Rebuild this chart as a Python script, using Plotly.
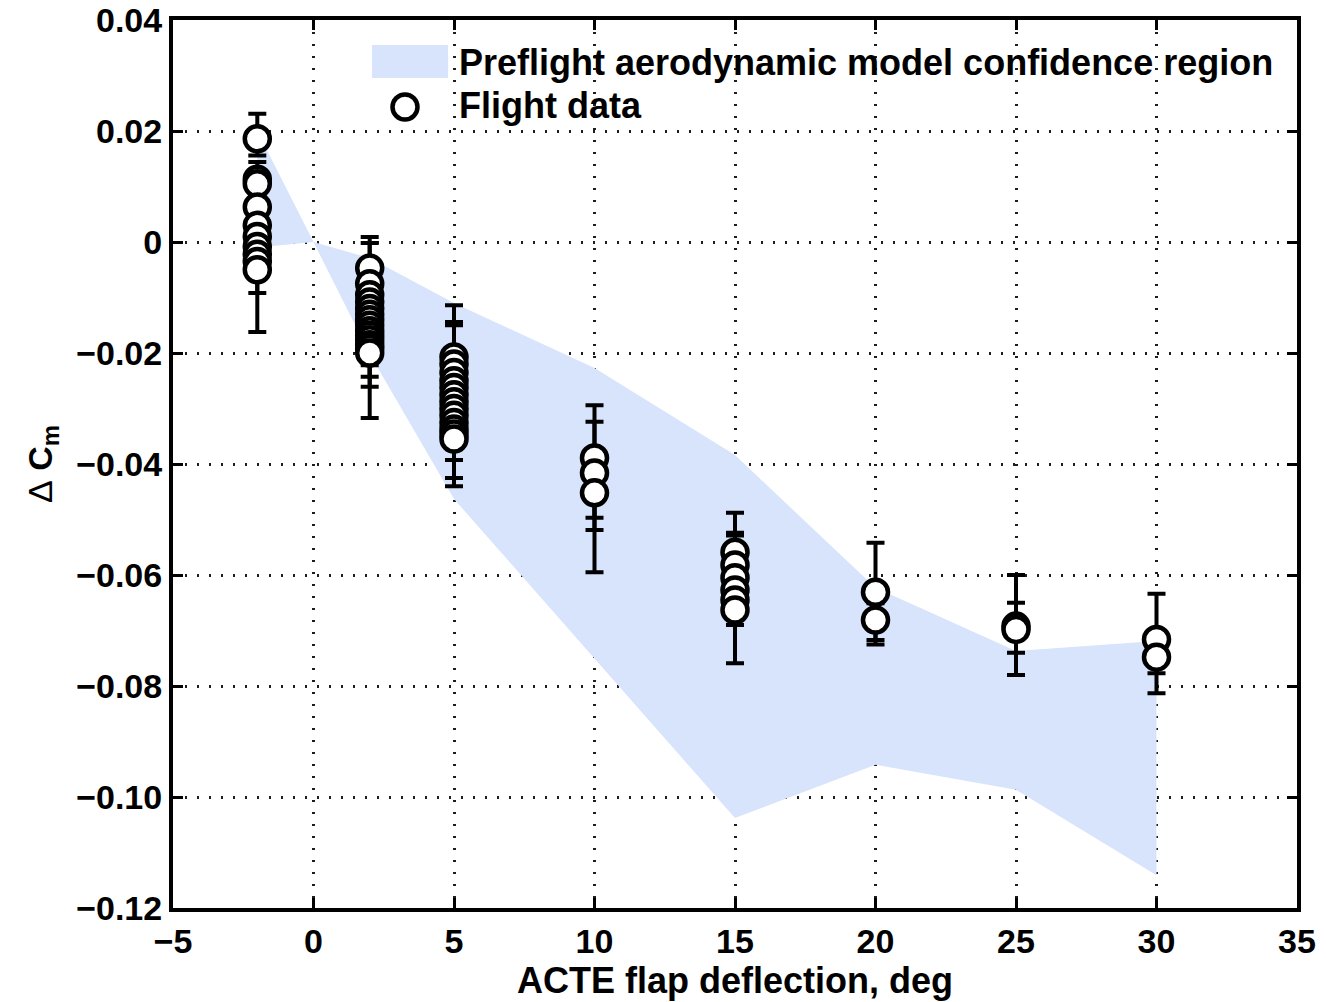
import plotly.graph_objects as go

# Preflight aerodynamic model confidence region (upper and lower bounds)
region_x = [-2, 0, 2, 5, 10, 15, 20, 25, 30]
region_upper = [0.0200, 0.0, -0.0029, -0.0110, -0.0227, -0.0384, -0.0623, -0.0737, -0.0719]
region_lower = [-0.0010, 0.0, -0.0202, -0.0463, -0.0751, -0.1038, -0.0942, -0.0987, -0.1141]

# Flight data (flap deflection, delta Cm, error plus, error minus)
flap_deg = ([-2] * 10 + [2] * 14 + [5] * 13 + [10] * 3 + [15] * 6 + [20] * 2 + [25] * 2 + [30] * 2)
delta_cm = [
    0.0186, 0.0113, 0.0105, 0.0063, 0.0030, 0.0010, -0.0008, -0.0022, -0.0035, -0.0050,
    -0.0047, -0.0075, -0.0095, -0.0108, -0.0120, -0.0130, -0.0140, -0.0150, -0.0160, -0.0168,
    -0.0176, -0.0185, -0.0192, -0.0200,
    -0.0207, -0.0220, -0.0235, -0.0250, -0.0262, -0.0275, -0.0288, -0.0300, -0.0312, -0.0325,
    -0.0337, -0.0346, -0.0355,
    -0.0389, -0.0416, -0.0452,
    -0.0559, -0.0582, -0.0605, -0.0627, -0.0645, -0.0663,
    -0.0631, -0.0681,
    -0.0692, -0.0698,
    -0.0716, -0.0748,
]
err_plus = [
    0.0045, 0.0031, 0.0020, 0.0020, 0.0020, 0.0020, 0.0020, 0.0020, 0.0020, 0.0020,
    0.0056, 0.0073, 0.0030, 0.0030, 0.0030, 0.0030, 0.0030, 0.0030, 0.0030, 0.0030,
    0.0030, 0.0030, 0.0030, 0.0030,
    0.0093, 0.0076, 0.0085, 0.0030, 0.0030, 0.0030, 0.0030, 0.0030, 0.0030, 0.0030,
    0.0030, 0.0030, 0.0030,
    0.0095, 0.0092, 0.0050,
    0.0030, 0.0094, 0.0030, 0.0103, 0.0030, 0.0030,
    0.0089, 0.0030,
    0.0092, 0.0048,
    0.0082, 0.0040,
]
err_minus = [
    0.0030, 0.0030, 0.0020, 0.0020, 0.0020, 0.0172, 0.0020, 0.0020, 0.0020, 0.0042,
    0.0030, 0.0030, 0.0030, 0.0030, 0.0030, 0.0030, 0.0030, 0.0030, 0.0030, 0.0030,
    0.0141, 0.0076, 0.0030, 0.0043,
    0.0030, 0.0030, 0.0030, 0.0030, 0.0030, 0.0030, 0.0030, 0.0030, 0.0030, 0.0115,
    0.0030, 0.0079, 0.0038,
    0.0108, 0.0103, 0.0143,
    0.0030, 0.0030, 0.0030, 0.0030, 0.0114, 0.0027,
    0.0094, 0.0036,
    0.0088, 0.0042,
    0.0061, 0.0065,
]

x_tickvals = [-5, 0, 5, 10, 15, 20, 25, 30, 35]
x_ticktext = ["\u22125", "0", "5", "10", "15", "20", "25", "30", "35"]
y_tickvals = [0.04, 0.02, 0, -0.02, -0.04, -0.06, -0.08, -0.10, -0.12]
y_ticktext = ["0.04", "0.02", "0", "\u22120.02", "\u22120.04", "\u22120.06", "\u22120.08", "\u22120.10", "\u22120.12"]

legend_labels = ["Preflight aerodynamic model confidence region", "Flight data"]

FONT = "Liberation Sans, Arial, Helvetica, sans-serif"
FSIZE = 34
LSIZE = 36
FILL = "rgb(215,228,252)"

fig = go.Figure()

fig.add_trace(go.Scatter(
    x=region_x + region_x[::-1],
    y=region_upper + region_lower[::-1],
    fill="toself", fillcolor=FILL, mode="lines",
    line=dict(width=0, color=FILL), hoverinfo="skip", showlegend=False,
))

fig.add_trace(go.Scatter(
    x=flap_deg, y=delta_cm, mode="markers",
    marker=dict(symbol="circle", size=25, color="white", line=dict(color="black", width=4.5)),
    error_y=dict(type="data", symmetric=False, array=err_plus, arrayminus=err_minus,
                 color="black", thickness=4, width=9),
    showlegend=False,
))

axis_common = dict(
    showline=True, linewidth=4, linecolor="black", mirror="ticks",
    ticks="inside", ticklen=10, tickwidth=3, tickcolor="black",
    showgrid=True, gridcolor="rgb(30,30,30)", gridwidth=2.5, griddash="1.5px,10.5px",
    zeroline=False, automargin=False,
    tickfont=dict(family=FONT, size=FSIZE, color="black", weight="bold"),
)

fig.update_xaxes(range=[-5, 35], tickvals=x_tickvals, ticktext=x_ticktext,
                 title=dict(text="ACTE flap deflection, deg", standoff=6,
                            font=dict(family=FONT, size=LSIZE, color="black", weight="bold")),
                 **axis_common)
fig.update_yaxes(range=[-0.12, 0.04], tickvals=y_tickvals, ticktext=y_ticktext,
                 title=dict(text="<span style='font-weight:normal'>\u0394</span> C<sub>m</sub>", standoff=14,
                            font=dict(family=FONT, size=FSIZE, color="black", weight="bold")),
                 **axis_common)

# Legend drawn inside the plot area (top right, no border)
fig.add_shape(type="rect", xref="paper", yref="paper",
              x0=0.177, x1=0.2447, y0=0.9347, y1=0.9718,
              fillcolor=FILL, line=dict(width=0), layer="below")
fig.add_shape(type="circle", xref="paper", yref="paper",
              x0=0.2064 - 12.5 / 1124, x1=0.2064 + 12.5 / 1124,
              y0=0.902 - 12.5 / 888, y1=0.902 + 12.5 / 888,
              fillcolor="white", line=dict(color="black", width=4.5))
fig.add_annotation(text=legend_labels[0], xref="paper", yref="paper", x=0.2527, y=0.9527,
                   xanchor="left", yanchor="middle", showarrow=False,
                   font=dict(family=FONT, size=LSIZE, color="black", weight="bold"))
fig.add_annotation(text=legend_labels[1], xref="paper", yref="paper", x=0.2527, y=0.9032,
                   xanchor="left", yanchor="middle", showarrow=False,
                   font=dict(family=FONT, size=LSIZE, color="black", weight="bold"))

fig.update_layout(
    width=1326, height=1002,
    margin=dict(l=173, r=29, t=20, b=94),
    plot_bgcolor="white", paper_bgcolor="white",
    showlegend=False,
)

fig.write_html("out.html")
